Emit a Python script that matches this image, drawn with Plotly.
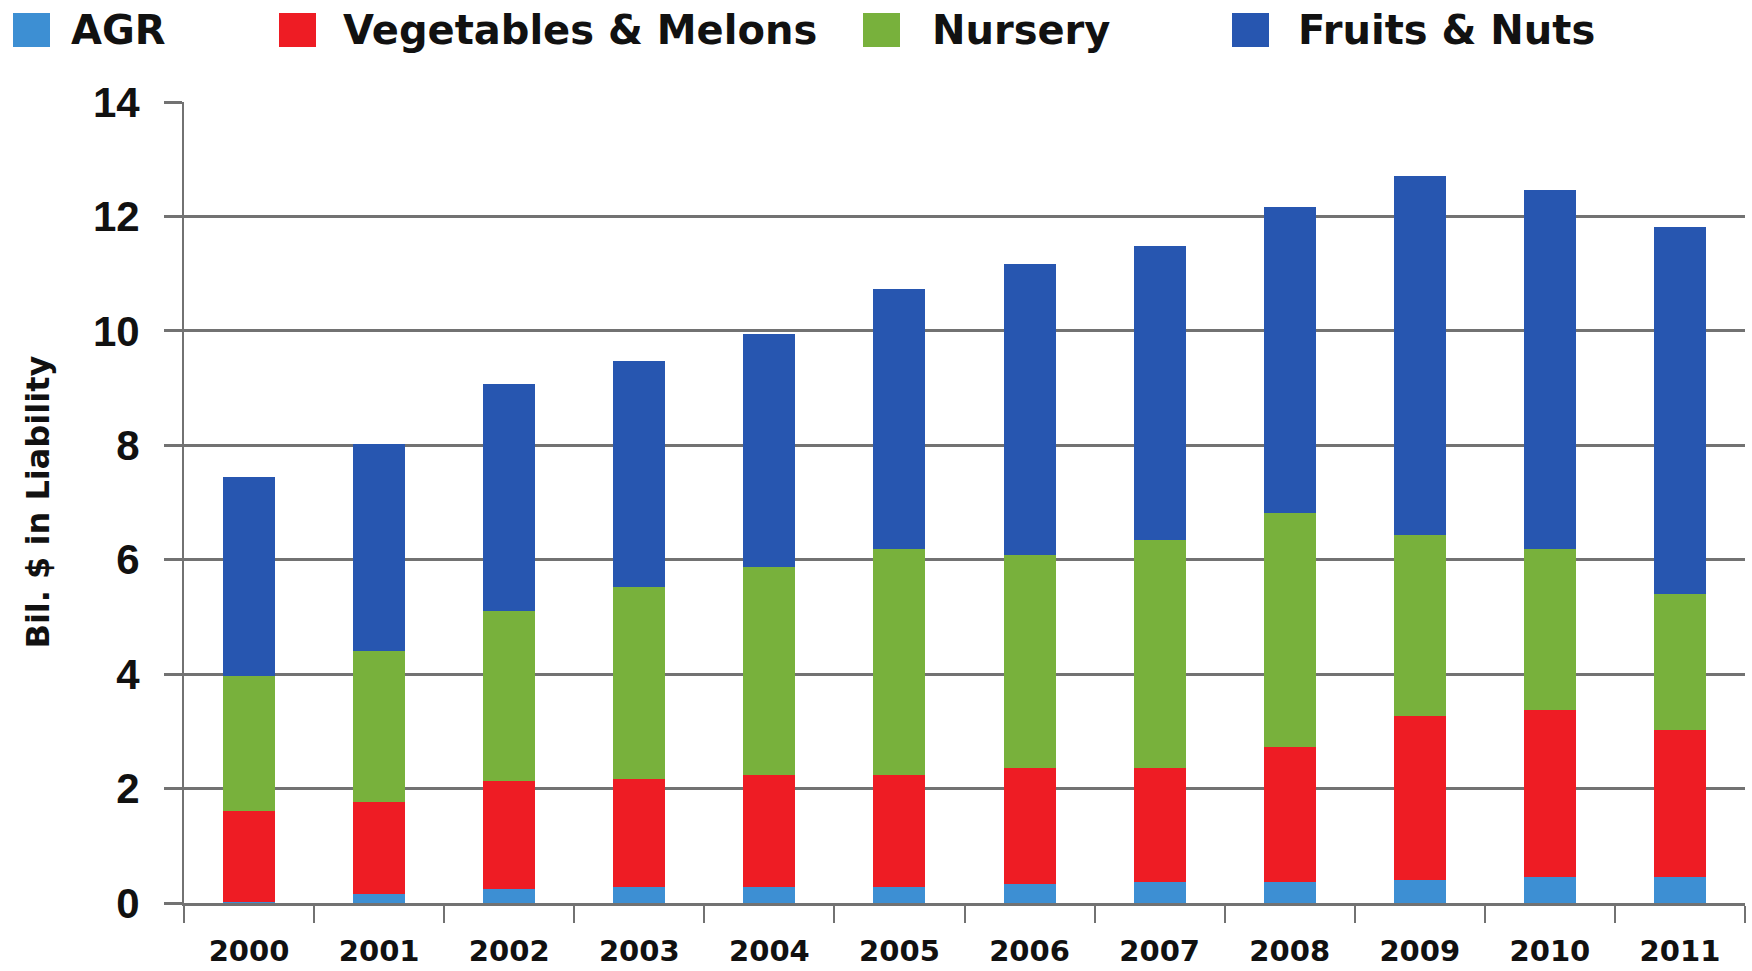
import plotly.graph_objects as go

# Crop insurance liability by crop group, billions of dollars
years = ["2000", "2001", "2002", "2003", "2004", "2005",
         "2006", "2007", "2008", "2009", "2010", "2011"]
agr = [0.02, 0.16, 0.24, 0.28, 0.28, 0.28, 0.34, 0.36, 0.36, 0.40, 0.45, 0.45]
vegetables_melons = [1.58, 1.61, 1.89, 1.89, 1.96, 1.96, 2.02, 2.00, 2.37, 2.87, 2.93, 2.57]
nursery = [2.37, 2.63, 2.98, 3.36, 3.64, 3.95, 3.73, 3.99, 4.08, 3.16, 2.81, 2.38]
fruits_nuts = [3.48, 3.62, 3.96, 3.95, 4.07, 4.55, 5.07, 5.14, 5.35, 6.28, 6.28, 6.42]

series_names = ["AGR", "Vegetables & Melons", "Nursery", "Fruits & Nuts"]
series_values = [agr, vegetables_melons, nursery, fruits_nuts]
series_colors = ["#3d8fd3", "#ee1c24", "#78b13c", "#2756b0"]

y_ticks = [0, 2, 4, 6, 8, 10, 12, 14]

W, H = 1752, 971
ML, MR, MT, MB = 184, 7, 102, 68
PW, PH = W - ML - MR, H - MT - MB


def px_x(px):
    return (px - ML) / PW


def px_y(py):
    return (H - MB - py) / PH


fig = go.Figure()
for name, vals, col in zip(series_names, series_values, series_colors):
    fig.add_trace(go.Bar(
        x=years, y=vals, name=name,
        marker=dict(color=col, line=dict(width=0)),
        showlegend=False,
    ))

grid_col = "#727272"
fig.update_layout(
    width=W, height=H,
    barmode="stack", bargap=0.6,
    margin=dict(l=ML, r=MR, t=MT, b=MB, autoexpand=False),
    paper_bgcolor="white", plot_bgcolor="white",
    font=dict(family="DejaVu Sans", color="#111111"),
    xaxis=dict(
        type="category", automargin=False,
        showgrid=False,
        showline=True, linecolor=grid_col, linewidth=3,
        ticks="outside", tickson="boundaries", ticklen=17, tickwidth=2,
        tickcolor=grid_col,
        tickfont=dict(family="DejaVu Sans", size=29, weight="bold"),
        ticklabelstandoff=20,
    ),
    yaxis=dict(
        range=[0, 14], tickvals=y_ticks, automargin=False,
        showgrid=True, gridcolor=grid_col, gridwidth=3,
        zeroline=False,
        showline=True, linecolor=grid_col, linewidth=2,
        ticks="outside", ticklen=18, tickwidth=3, tickcolor=grid_col,
        tickfont=dict(family="Liberation Sans", size=42, weight="bold"),
        ticklabelstandoff=16,
    ),
)

# Y axis title
fig.add_annotation(
    text="Bil. $ in Liability", textangle=-90,
    xref="paper", yref="paper", x=px_x(37), y=0.5,
    xanchor="center", yanchor="middle", showarrow=False,
    font=dict(family="DejaVu Sans", size=32, weight="bold", color="#111111"),
)

# Legend row across the top
swatch_left = [13, 279, 863, 1232]
label_left = [69, 341, 930, 1296]
legend_cy = 30
for name, col, sx, lx in zip(series_names, series_colors, swatch_left, label_left):
    fig.add_shape(
        type="rect", xref="paper", yref="paper",
        x0=px_x(sx), x1=px_x(sx + 37),
        y0=px_y(legend_cy + 17), y1=px_y(legend_cy - 17),
        fillcolor=col, line=dict(width=0),
    )
    fig.add_annotation(
        text=name, xref="paper", yref="paper",
        x=px_x(lx), y=px_y(legend_cy),
        xanchor="left", yanchor="middle", showarrow=False,
        font=dict(family="DejaVu Sans", size=40, weight="bold", color="#111111"),
    )

fig.write_html("out.html")
